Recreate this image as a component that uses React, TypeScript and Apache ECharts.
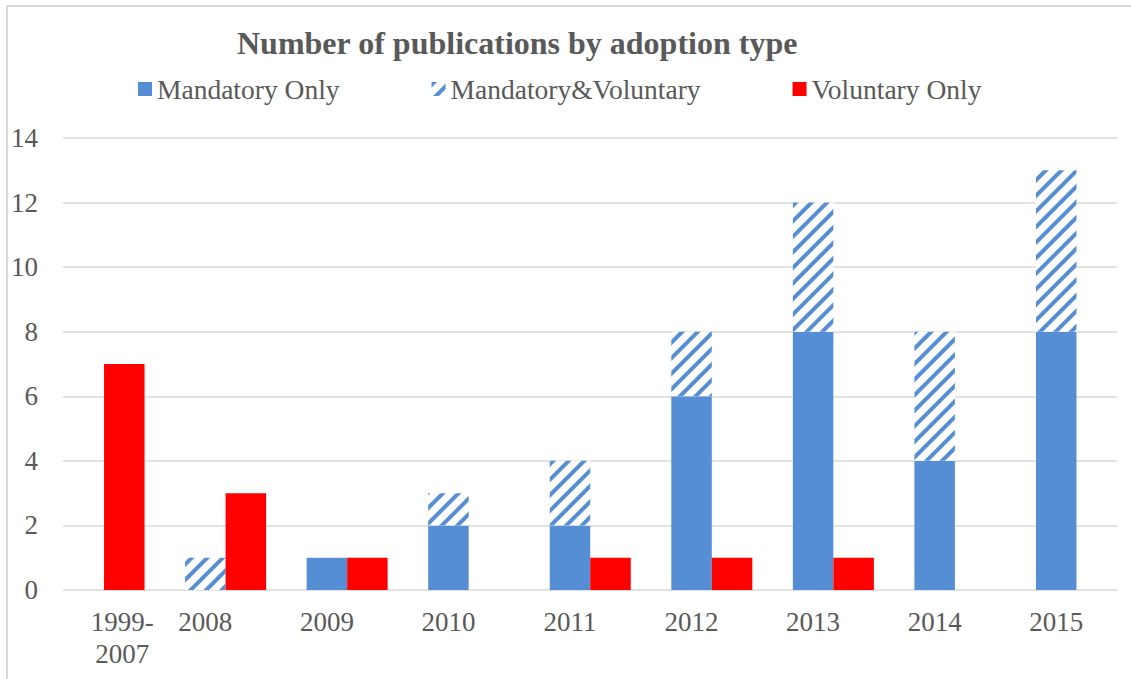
import React, { useEffect, useRef } from "react";
import * as echarts from "echarts";

const categories = ["1999-\n2007", "2008", "2009", "2010", "2011", "2012", "2013", "2014", "2015"];
const mandatoryOnly = [0, 0, 1, 2, 2, 6, 8, 4, 8];
const mandatoryVoluntary = [0, 1, 0, 1, 2, 2, 4, 4, 5];
const voluntaryOnly = [7, 3, 1, 0, 1, 1, 1, 0, 0];
const yMin = 0;
const yMax = 14;
const yInterval = 2;

const FONT = "'Liberation Serif', 'Times New Roman', serif";
const TEXT = "#595959";
const BLUE = "#558ED5";
const RED = "#FF0000";

export default function App() {
  const ref = useRef<HTMLDivElement>(null);
  useEffect(() => {
    if (!ref.current) return;
    const chart = echarts.init(ref.current, null, { renderer: "svg" });
    const barW = 40.5;
    const xData = categories.map((c, i) =>
      i === 0 ? { value: c, textStyle: { padding: [0, 0, 0, 77] } } : c
    );
    chart.setOption({
      animation: false,
      backgroundColor: "#ffffff",
      title: {
        text: "Number of publications by adoption type",
        left: 232,
        top: 22,
        textStyle: { fontFamily: FONT, fontSize: 32, fontWeight: "bold", color: TEXT },
      },
      legend: {
        data: ["Mandatory Only", "Mandatory&Voluntary", "Voluntary Only"],
        left: 133,
        top: 70,
        icon: "rect",
        itemWidth: 14,
        itemHeight: 14,
        itemGap: 92,
        textStyle: { fontFamily: FONT, fontSize: 27.5, color: TEXT },
      },
      graphic: [
        {
          type: "rect",
          silent: true,
          z: -10,
          shape: { x: 7, y: 6, width: 1140, height: 700 },
          style: { fill: "none", stroke: "#d9d9d9", lineWidth: 2 },
        },
      ],
      grid: [
        { left: 23, right: 14, top: 138, bottom: 89, containLabel: false, outerBoundsMode: "none" },
        { left: 63, right: 14, top: 138, bottom: 89, containLabel: false, outerBoundsMode: "none" },
      ],
      xAxis: [
        {
          gridIndex: 0,
          type: "category",
          data: xData,
          axisLine: { show: false },
          axisTick: { show: false },
          axisLabel: {
            interval: 0,
            margin: 16,
            fontFamily: FONT,
            fontSize: 27,
            color: TEXT,
            lineHeight: 32,
          },
        },
        { gridIndex: 1, type: "category", data: categories, show: false },
      ],
      yAxis: [
        { gridIndex: 0, type: "value", min: yMin, max: yMax, interval: yInterval, show: false },
        {
          gridIndex: 1,
          type: "value",
          min: yMin,
          max: yMax,
          interval: yInterval,
          axisLine: { show: false },
          axisTick: { show: false },
          splitLine: { lineStyle: { color: "#d9d9d9", width: 1.5 } },
          axisLabel: { margin: 25, fontFamily: FONT, fontSize: 27, color: TEXT },
        },
      ],
      series: [
        {
          name: "_spacer",
          type: "bar",
          xAxisIndex: 0,
          yAxisIndex: 0,
          barWidth: barW,
          barGap: "0%",
          data: categories.map(() => null),
        },
        {
          name: "Mandatory Only",
          type: "bar",
          stack: "mandatory",
          xAxisIndex: 0,
          yAxisIndex: 0,
          barWidth: barW,
          barGap: "0%",
          itemStyle: { color: BLUE },
          data: mandatoryOnly,
        },
        {
          name: "Mandatory&Voluntary",
          type: "bar",
          stack: "mandatory",
          xAxisIndex: 0,
          yAxisIndex: 0,
          barWidth: barW,
          barGap: "0%",
          itemStyle: {
            color: "#ffffff",
            decal: {
              symbol: "rect",
              symbolSize: 1,
              color: BLUE,
              dashArrayX: [1, 0],
              dashArrayY: [4, 7],
              rotation: -Math.PI / 4,
            },
          },
          data: mandatoryVoluntary,
        },
        {
          name: "Voluntary Only",
          type: "bar",
          xAxisIndex: 0,
          yAxisIndex: 0,
          barWidth: barW,
          barGap: "0%",
          itemStyle: { color: RED },
          data: voluntaryOnly,
        },
      ],
    });
    return () => chart.dispose();
  }, []);
  return (
    <div
      ref={ref}
      style={{ position: "fixed", left: 0, top: 0, width: 1131, height: 679 }}
    />
  );
}
